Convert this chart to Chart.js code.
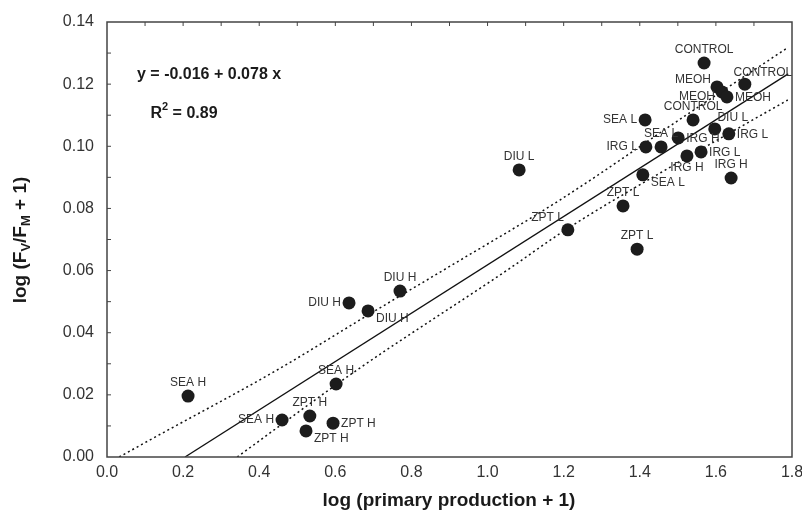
<!DOCTYPE html>
<html>
<head>
<meta charset="utf-8">
<script src="https://cdn.jsdelivr.net/npm/chart.js@4.4.1/dist/chart.umd.min.js"></script>
<style>
  body { margin: 0; background: #fff; }
  canvas { display: block; }
</style>
</head>
<body>
<canvas id="ppChart" width="802" height="523"></canvas>
<script>
// treatment labels and the values
const treatments = ['CONTROL', 'CONTROL', 'MEOH', 'MEOH', 'MEOH', 'CONTROL', 'SEA L', 'DIU L', 'IRG L', 'IRG H',
  'IRG L', 'SEA L', 'IRG H', 'IRG L', 'IRG H', 'SEA L', 'ZPT L', 'ZPT L', 'ZPT L', 'DIU L',
  'DIU H', 'DIU H', 'DIU H', 'SEA H', 'SEA H', 'SEA H', 'ZPT H', 'ZPT H', 'ZPT H'];
const primaryProd = [1.569, 1.676, 1.603, 1.616, 1.629, 1.540, 1.414, 1.597, 1.634, 1.501,
  1.416, 1.456, 1.524, 1.561, 1.640, 1.408, 1.356, 1.211, 1.393, 1.083,
  0.770, 0.636, 0.686, 0.213, 0.602, 0.460, 0.533, 0.594, 0.523];
const fvfm = [0.1268, 0.1200, 0.1191, 0.1175, 0.1159, 0.1085, 0.1085, 0.1056, 0.1040, 0.1027,
  0.0998, 0.0998, 0.0969, 0.0982, 0.0898, 0.0908, 0.0808, 0.0731, 0.0669, 0.0924,
  0.0534, 0.0496, 0.0470, 0.0196, 0.0235, 0.0119, 0.0132, 0.0109, 0.0084];

// regression line and confidence band
const fitX = [0.205, 1.79];
const fitY = [0.0, 0.1233];
const upperX = [0.032, 0.113, 0.447, 0.686, 0.893, 1.19, 1.53, 1.787];
const upperY = [0.0, 0.0055, 0.028, 0.0457, 0.0608, 0.0827, 0.1107, 0.1316];
const lowerX = [0.342, 0.657, 1.05, 1.21, 1.48, 1.789];
const lowerY = [0.0, 0.028, 0.060, 0.0735, 0.0933, 0.1149];

const xTicks = [0, 0.2, 0.4, 0.6, 0.8, 1.0, 1.2, 1.4, 1.6, 1.8];
const yTicks = [0, 0.02, 0.04, 0.06, 0.08, 0.10, 0.12, 0.14];

// where each point's label sits
const labelSide = ['N', 'NE', 'WN', 'WS', 'E', 'N', 'W', 'NE', 'E', 'E',
  'W', 'N', 'S', 'E', 'N', 'SE', 'N', 'NW', 'N', 'N',
  'N', 'W', 'SE', 'N', 'N', 'W', 'N', 'E', 'SE'];
const sideOffsets = {
  N: { dx: 0, dy: -13, align: 'center' },
  S: { dx: 0, dy: 12, align: 'center' },
  E: { dx: 8, dy: 1, align: 'left' },
  W: { dx: -8, dy: 0, align: 'right' },
  WN: { dx: -6, dy: -7, align: 'right' },
  WS: { dx: -7, dy: 5, align: 'right' },
  NE: { dx: 18, dy: -11, align: 'center' },
  NW: { dx: -4, dy: -12, align: 'right' },
  SE: { dx: 8, dy: 8, align: 'left' }
};

const toPts = (xs, ys) => xs.map((x, i) => ({ x: x, y: ys[i] }));
const FONT = "'Liberation Sans', Arial, Helvetica, sans-serif";

// text with a subscript / superscript piece
function drawRich(ctx, parts, x, y, size) {
  let total = 0;
  parts.forEach(p => {
    ctx.font = 'bold ' + (p.sub || p.sup ? Math.round(size * 0.68) : size) + 'px ' + FONT;
    total += ctx.measureText(p.t).width;
  });
  let cx = x - total / 2;
  parts.forEach(p => {
    ctx.font = 'bold ' + (p.sub || p.sup ? Math.round(size * 0.68) : size) + 'px ' + FONT;
    const off = p.sub ? size * 0.3 : (p.sup ? -size * 0.42 : 0);
    ctx.fillText(p.t, cx, y + off);
    cx += ctx.measureText(p.t).width;
  });
}

const decorPlugin = {
  id: 'decor',
  afterDatasetsDraw(chart) {
    const ctx = chart.ctx;
    const xs = chart.scales.x, ys = chart.scales.y;
    const a = chart.chartArea;
    ctx.save();
    // point labels
    ctx.font = '12px ' + FONT;
    ctx.fillStyle = '#333';
    ctx.textBaseline = 'middle';
    treatments.forEach((t, i) => {
      const o = sideOffsets[labelSide[i]];
      ctx.textAlign = o.align;
      ctx.fillText(t, xs.getPixelForValue(primaryProd[i]) + o.dx, ys.getPixelForValue(fvfm[i]) + o.dy);
    });
    // frame
    ctx.strokeStyle = '#444';
    ctx.lineWidth = 1.5;
    ctx.strokeRect(a.left, a.top, a.right - a.left, a.bottom - a.top);
    // inward ticks: top edge every 0.1, left edge every 0.01
    ctx.lineWidth = 1;
    ctx.beginPath();
    for (let k = 1; k < 18; k++) {
      const px = xs.getPixelForValue(k / 10);
      ctx.moveTo(px, a.top);
      ctx.lineTo(px, a.top + 4);
    }
    for (let k = 1; k < 14; k++) {
      const py = ys.getPixelForValue(k / 100);
      ctx.moveTo(a.left, py);
      ctx.lineTo(a.left + 4, py);
    }
    ctx.stroke();
    // equation
    ctx.fillStyle = '#1a1a1a';
    ctx.textAlign = 'left';
    ctx.textBaseline = 'middle';
    ctx.font = 'bold 16px ' + FONT;
    ctx.fillText('y = -0.016 + 0.078 x', 137, 75);
    drawRich(ctx, [{ t: 'R' }, { t: '2', sup: true }, { t: ' = 0.89' }], 184, 114, 16);
    // axis titles
    drawRich(ctx, [{ t: 'log (primary production + 1)' }], 449, 501, 19);
    ctx.translate(21, 240);
    ctx.rotate(-Math.PI / 2);
    drawRich(ctx, [{ t: 'log (F' }, { t: 'V', sub: true }, { t: '/F' }, { t: 'M', sub: true }, { t: ' + 1)' }], 0, 0, 19);
    ctx.restore();
  }
};

const ctx = document.getElementById('ppChart').getContext('2d');
const ppChart = new Chart(ctx, {
  type: 'scatter',
  data: {
    datasets: [
      {
        label: 'samples',
        data: toPts(primaryProd, fvfm),
        backgroundColor: '#1c1c1c',
        borderWidth: 0,
        pointRadius: 6.5,
        order: 0
      },
      {
        label: 'fit',
        data: toPts(fitX, fitY),
        showLine: true,
        borderColor: '#111',
        borderWidth: 1.3,
        pointRadius: 0,
        order: 1
      },
      {
        label: 'upper',
        data: toPts(upperX, upperY),
        showLine: true,
        borderColor: '#111',
        borderWidth: 1.5,
        borderDash: [2, 3],
        cubicInterpolationMode: 'monotone',
        pointRadius: 0,
        order: 2
      },
      {
        label: 'lower',
        data: toPts(lowerX, lowerY),
        showLine: true,
        borderColor: '#111',
        borderWidth: 1.5,
        borderDash: [2, 3],
        cubicInterpolationMode: 'monotone',
        pointRadius: 0,
        order: 2
      }
    ]
  },
  options: {
    responsive: false,
    animation: false,
    layout: { padding: { top: 22, right: 10, left: 0, bottom: 0 } },
    plugins: {
      legend: { display: false },
      tooltip: { enabled: false }
    },
    scales: {
      x: {
        type: 'linear',
        min: 0,
        max: 1.8,
        afterBuildTicks: s => { s.ticks = xTicks.map(v => ({ value: v })); },
        afterFit: s => { s.height = 66; s.paddingLeft = 0; s.paddingRight = 0; },
        grid: { display: false, drawTicks: false },
        border: { display: false },
        ticks: {
          callback: v => v.toFixed(1),
          font: { family: FONT, size: 16 },
          color: '#333',
          padding: 6,
          maxRotation: 0
        }
      },
      y: {
        min: 0,
        max: 0.14,
        afterBuildTicks: s => { s.ticks = yTicks.map(v => ({ value: v })); },
        afterFit: s => { s.width = 107; s.paddingTop = 0; s.paddingBottom = 0; },
        grid: { display: false, drawTicks: false },
        border: { display: false },
        ticks: {
          callback: v => v.toFixed(2),
          font: { family: FONT, size: 16 },
          color: '#333',
          padding: 13
        }
      }
    }
  },
  plugins: [decorPlugin]
});
</script>
</body>
</html>
